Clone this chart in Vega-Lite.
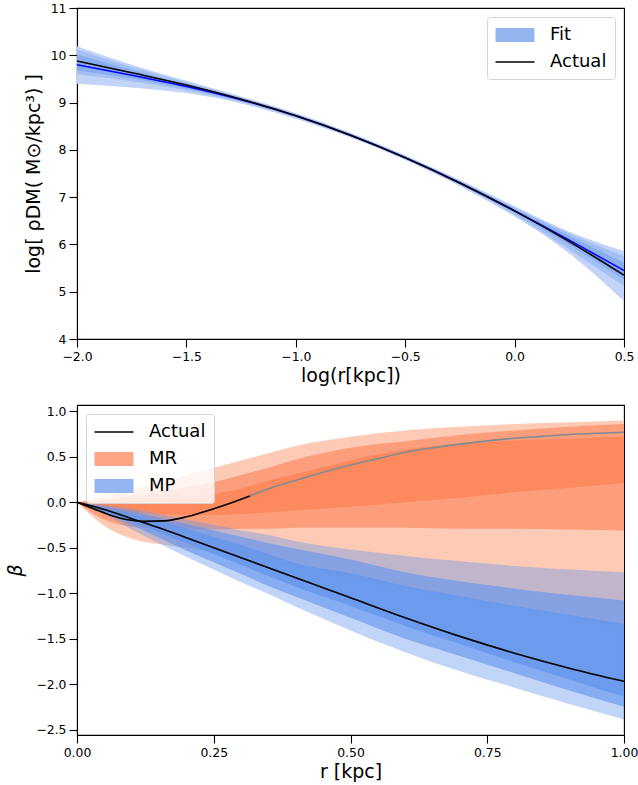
{
  "$schema": "https://vega.github.io/schema/vega-lite/v6.json",
  "padding": {"left": 6, "top": 1, "right": 6, "bottom": 2},
  "bounds": "flush",
  "spacing": 66,
  "config": {
    "font": "DejaVu Sans",
    "view": {"stroke": "black", "strokeWidth": 1.1},
    "axis": {"domainColor": "black", "domainWidth": 1.1, "tickColor": "black", "tickWidth": 1.1, "tickSize": 8, "labelColor": "black", "titleColor": "black", "labelFont": "DejaVu Sans", "titleFont": "DejaVu Sans", "labelFontSize": 12.4, "titleFontSize": 19, "titleFontWeight": "normal", "labelPadding": 3, "labelFlush": false, "grid": false},
    "legend": {"labelFont": "DejaVu Sans", "labelFontSize": 18, "labelColor": "black", "padding": 8, "rowPadding": 8, "labelOffset": 25, "symbolOffset": 10, "symbolSize": 380, "symbolStrokeWidth": 0, "symbolOpacity": 1, "cornerRadius": 3, "strokeColor": "#d4d4d4", "fillColor": "rgba(255,255,255,0.8)", "offset": 9}
  },
  "datasets": {
    "top": [
      {"x": -2, "fit": 9.80, "actual": 9.88, "o_lo": 9.40, "o_hi": 10.19, "m_lo": 9.60, "m_hi": 10.12, "i_lo": 9.68, "i_hi": 10.02},
      {"x": -1.75, "fit": 9.58, "actual": 9.63, "o_lo": 9.32, "o_hi": 9.80, "m_lo": 9.45, "m_hi": 9.75, "i_lo": 9.51, "i_hi": 9.69},
      {"x": -1.5, "fit": 9.34, "actual": 9.37, "o_lo": 9.20, "o_hi": 9.46, "m_lo": 9.26, "m_hi": 9.43, "i_lo": 9.30, "i_hi": 9.39},
      {"x": -1.25, "fit": 9.06, "actual": 9.07, "o_lo": 8.98, "o_hi": 9.13, "m_lo": 9.01, "m_hi": 9.11, "i_lo": 9.03, "i_hi": 9.09},
      {"x": -1, "fit": 8.72, "actual": 8.72, "o_lo": 8.66, "o_hi": 8.78, "m_lo": 8.68, "m_hi": 8.76, "i_lo": 8.70, "i_hi": 8.74},
      {"x": -0.75, "fit": 8.31, "actual": 8.31, "o_lo": 8.26, "o_hi": 8.36, "m_lo": 8.275, "m_hi": 8.345, "i_lo": 8.29, "i_hi": 8.33},
      {"x": -0.5, "fit": 7.835, "actual": 7.835, "o_lo": 7.785, "o_hi": 7.885, "m_lo": 7.80, "m_hi": 7.87, "i_lo": 7.815, "i_hi": 7.855},
      {"x": -0.25, "fit": 7.30, "actual": 7.30, "o_lo": 7.23, "o_hi": 7.36, "m_lo": 7.255, "m_hi": 7.345, "i_lo": 7.275, "i_hi": 7.325},
      {"x": 0, "fit": 6.71, "actual": 6.71, "o_lo": 6.59, "o_hi": 6.81, "m_lo": 6.63, "m_hi": 6.78, "i_lo": 6.67, "i_hi": 6.75},
      {"x": 0.25, "fit": 6.09, "actual": 6.06, "o_lo": 5.81, "o_hi": 6.27, "m_lo": 5.89, "m_hi": 6.23, "i_lo": 5.99, "i_hi": 6.18},
      {"x": 0.5, "fit": 5.45, "actual": 5.35, "o_lo": 4.80, "o_hi": 5.86, "m_lo": 5.12, "m_hi": 5.75, "i_lo": 5.26, "i_hi": 5.61}
    ],
    "topLegend": [
      {"s": "Fit", "x": -2, "y": 4},
      {"s": "Actual", "x": -2, "y": 4}
    ],
    "bands": [
      {"r": 0, "ro_lo": 0, "ro_hi": 0, "rm_lo": 0, "rm_hi": 0, "ri_lo": 0, "ri_hi": 0, "po_lo": 0, "po_hi": 0, "pm_lo": 0, "pm_hi": 0, "pi_lo": 0, "pi_hi": 0},
      {"r": 0.05, "ro_lo": -0.26, "ro_hi": 0.07, "rm_lo": -0.19, "rm_hi": 0.03, "ri_lo": -0.07, "ri_hi": 0.0, "po_lo": -0.13, "po_hi": -0.03, "pm_lo": -0.11, "pm_hi": -0.05, "pi_lo": -0.10, "pi_hi": -0.06},
      {"r": 0.1, "ro_lo": -0.40, "ro_hi": 0.14, "rm_lo": -0.27, "rm_hi": 0.07, "ri_lo": -0.11, "ri_hi": 0.01, "po_lo": -0.30, "po_hi": -0.07, "pm_lo": -0.25, "pm_hi": -0.10, "pi_lo": -0.21, "pi_hi": -0.13},
      {"r": 0.15, "ro_lo": -0.46, "ro_hi": 0.22, "rm_lo": -0.29, "rm_hi": 0.11, "ri_lo": -0.13, "ri_hi": 0.03, "po_lo": -0.45, "po_hi": -0.13, "pm_lo": -0.39, "pm_hi": -0.17, "pi_lo": -0.33, "pi_hi": -0.21},
      {"r": 0.2, "ro_lo": -0.50, "ro_hi": 0.30, "rm_lo": -0.30, "rm_hi": 0.16, "ri_lo": -0.14, "ri_hi": 0.05, "po_lo": -0.60, "po_hi": -0.19, "pm_lo": -0.53, "pm_hi": -0.24, "pi_lo": -0.45, "pi_hi": -0.29},
      {"r": 0.25, "ro_lo": -0.55, "ro_hi": 0.38, "rm_lo": -0.30, "rm_hi": 0.22, "ri_lo": -0.14, "ri_hi": 0.09, "po_lo": -0.74, "po_hi": -0.25, "pm_lo": -0.66, "pm_hi": -0.31, "pi_lo": -0.57, "pi_hi": -0.38},
      {"r": 0.3, "ro_lo": -0.60, "ro_hi": 0.46, "rm_lo": -0.29, "rm_hi": 0.30, "ri_lo": -0.13, "ri_hi": 0.15, "po_lo": -0.88, "po_hi": -0.31, "pm_lo": -0.79, "pm_hi": -0.38, "pi_lo": -0.69, "pi_hi": -0.47},
      {"r": 0.35, "ro_lo": -0.66, "ro_hi": 0.54, "rm_lo": -0.29, "rm_hi": 0.38, "ri_lo": -0.11, "ri_hi": 0.24, "po_lo": -1.01, "po_hi": -0.36, "pm_lo": -0.92, "pm_hi": -0.45, "pi_lo": -0.81, "pi_hi": -0.57},
      {"r": 0.4, "ro_lo": -0.72, "ro_hi": 0.62, "rm_lo": -0.28, "rm_hi": 0.47, "ri_lo": -0.09, "ri_hi": 0.31, "po_lo": -1.15, "po_hi": -0.43, "pm_lo": -1.04, "pm_hi": -0.51, "pi_lo": -0.93, "pi_hi": -0.67},
      {"r": 0.5, "ro_lo": -0.85, "ro_hi": 0.72, "rm_lo": -0.28, "rm_hi": 0.60, "ri_lo": -0.05, "ri_hi": 0.46, "po_lo": -1.41, "po_hi": -0.52, "pm_lo": -1.27, "pm_hi": -0.63, "pi_lo": -1.14, "pi_hi": -0.78},
      {"r": 0.6, "ro_lo": -0.95, "ro_hi": 0.79, "rm_lo": -0.28, "rm_hi": 0.67, "ri_lo": 0.0, "ri_hi": 0.58, "po_lo": -1.65, "po_hi": -0.59, "pm_lo": -1.50, "pm_hi": -0.77, "pi_lo": -1.36, "pi_hi": -0.92},
      {"r": 0.7, "ro_lo": -1.05, "ro_hi": 0.83, "rm_lo": -0.29, "rm_hi": 0.74, "ri_lo": 0.05, "ri_hi": 0.64, "po_lo": -1.86, "po_hi": -0.65, "pm_lo": -1.69, "pm_hi": -0.87, "pi_lo": -1.56, "pi_hi": -1.03},
      {"r": 0.8, "ro_lo": -1.15, "ro_hi": 0.86, "rm_lo": -0.29, "rm_hi": 0.79, "ri_lo": 0.11, "ri_hi": 0.68, "po_lo": -2.04, "po_hi": -0.70, "pm_lo": -1.88, "pm_hi": -0.95, "pi_lo": -1.76, "pi_hi": -1.14},
      {"r": 0.9, "ro_lo": -1.25, "ro_hi": 0.88, "rm_lo": -0.30, "rm_hi": 0.83, "ri_lo": 0.16, "ri_hi": 0.70, "po_lo": -2.22, "po_hi": -0.74, "pm_lo": -2.07, "pm_hi": -1.02, "pi_lo": -1.95, "pi_hi": -1.24},
      {"r": 1.0, "ro_lo": -1.40, "ro_hi": 0.90, "rm_lo": -0.31, "rm_hi": 0.86, "ri_lo": 0.21, "ri_hi": 0.72, "po_lo": -2.39, "po_hi": -0.77, "pm_lo": -2.25, "pm_hi": -1.08, "pi_lo": -2.14, "pi_hi": -1.34}
    ],
    "mpActual": [
      {"r": 0, "beta": 0}, {"r": 0.05, "beta": -0.08}, {"r": 0.1, "beta": -0.18}, {"r": 0.15, "beta": -0.28}, {"r": 0.2, "beta": -0.39}, {"r": 0.25, "beta": -0.50}, {"r": 0.3, "beta": -0.61}, {"r": 0.35, "beta": -0.72}, {"r": 0.4, "beta": -0.83}, {"r": 0.45, "beta": -0.94}, {"r": 0.5, "beta": -1.05}, {"r": 0.6, "beta": -1.27}, {"r": 0.7, "beta": -1.475}, {"r": 0.8, "beta": -1.66}, {"r": 0.9, "beta": -1.825}, {"r": 1.0, "beta": -1.97}
    ],
    "mrInner": [
      {"r": 0, "beta": 0}, {"r": 0.03, "beta": -0.07}, {"r": 0.06, "beta": -0.14}, {"r": 0.09, "beta": -0.19}, {"r": 0.12, "beta": -0.21}, {"r": 0.16, "beta": -0.205}, {"r": 0.2, "beta": -0.16}, {"r": 0.24, "beta": -0.09}, {"r": 0.28, "beta": -0.01}, {"r": 0.316, "beta": 0.07}
    ],
    "mrOuter": [
      {"r": 0.316, "beta": 0.07}, {"r": 0.35, "beta": 0.15}, {"r": 0.4, "beta": 0.24}, {"r": 0.45, "beta": 0.33}, {"r": 0.5, "beta": 0.41}, {"r": 0.55, "beta": 0.48}, {"r": 0.6, "beta": 0.55}, {"r": 0.65, "beta": 0.60}, {"r": 0.7, "beta": 0.64}, {"r": 0.75, "beta": 0.675}, {"r": 0.8, "beta": 0.705}, {"r": 0.85, "beta": 0.725}, {"r": 0.9, "beta": 0.745}, {"r": 0.95, "beta": 0.76}, {"r": 1.0, "beta": 0.77}
    ],
    "bottomLegend": [
      {"s": "Actual", "r": 0, "beta": 0},
      {"s": "MR", "r": 0, "beta": 0},
      {"s": "MP", "r": 0, "beta": 0}
    ]
  },
  "vconcat": [
    {
      "width": 547,
      "height": 331,
      "resolve": {"scale": {"color": "independent", "shape": "independent"}},
      "layer": [
        {
          "data": {"name": "top"},
          "mark": {"type": "area", "color": "#c1d4f7", "interpolate": "monotone"},
          "encoding": {
            "x": {"field": "x", "type": "quantitative", "scale": {"domain": [-2, 0.5], "nice": false, "zero": false}, "axis": {"values": [-2, -1.5, -1, -0.5, 0, 0.5], "format": ".1f", "title": "log(r[kpc])"}},
            "y": {"field": "o_lo", "type": "quantitative", "scale": {"domain": [4, 11], "nice": false, "zero": false}, "axis": {"values": [4, 5, 6, 7, 8, 9, 10, 11], "format": "d", "title": "log[ ρDM( M⊙/kpc³) ]", "titlePadding": 7}},
            "y2": {"field": "o_hi"}
          }
        },
        {
          "data": {"name": "top"},
          "mark": {"type": "area", "color": "#a3bff3", "interpolate": "monotone"},
          "encoding": {"x": {"field": "x", "type": "quantitative"}, "y": {"field": "m_lo", "type": "quantitative"}, "y2": {"field": "m_hi"}}
        },
        {
          "data": {"name": "top"},
          "mark": {"type": "area", "color": "#88adf0", "interpolate": "monotone"},
          "encoding": {"x": {"field": "x", "type": "quantitative"}, "y": {"field": "i_lo", "type": "quantitative"}, "y2": {"field": "i_hi"}}
        },
        {
          "data": {"name": "top"},
          "mark": {"type": "line", "color": "#0000ff", "strokeWidth": 1.5, "interpolate": "monotone"},
          "encoding": {"x": {"field": "x", "type": "quantitative"}, "y": {"field": "fit", "type": "quantitative"}}
        },
        {
          "data": {"name": "top"},
          "mark": {"type": "line", "color": "black", "strokeWidth": 1.6, "interpolate": "monotone"},
          "encoding": {"x": {"field": "x", "type": "quantitative"}, "y": {"field": "actual", "type": "quantitative"}}
        },
        {
          "data": {"name": "topLegend"},
          "mark": {"type": "point", "filled": true, "opacity": 0},
          "encoding": {
            "x": {"field": "x", "type": "quantitative"},
            "y": {"field": "y", "type": "quantitative"},
            "color": {"field": "s", "type": "nominal", "scale": {"domain": ["Fit", "Actual"], "range": ["#94b4f0", "black"]}, "legend": {"title": null, "orient": "top-right"}},
            "shape": {"field": "s", "type": "nominal", "scale": {"domain": ["Fit", "Actual"], "range": ["M-2,-0.72L2,-0.72L2,0.72L-2,0.72Z", "M-2,-0.08L2,-0.08L2,0.08L-2,0.08Z"]}, "legend": {"title": null, "orient": "top-right"}}
          }
        }
      ]
    },
    {
      "width": 547,
      "height": 330,
      "resolve": {"scale": {"color": "independent", "shape": "independent"}},
      "layer": [
        {
          "data": {"name": "bands"},
          "mark": {"type": "area", "color": "#fdcab5", "interpolate": "monotone"},
          "encoding": {
            "x": {"field": "r", "type": "quantitative", "scale": {"domain": [0, 1], "nice": false, "zero": false}, "axis": {"values": [0, 0.25, 0.5, 0.75, 1], "format": ".2f", "title": "r [kpc]"}},
            "y": {"field": "ro_lo", "type": "quantitative", "scale": {"domain": [-2.56, 1.07], "nice": false, "zero": false}, "axis": {"values": [-2.5, -2, -1.5, -1, -0.5, 0, 0.5, 1], "format": ".1f", "title": "β", "titleFontStyle": "italic", "titlePadding": 10}},
            "y2": {"field": "ro_hi"}
          }
        },
        {
          "data": {"name": "bands"},
          "mark": {"type": "area", "color": "#fc9d7c", "interpolate": "monotone"},
          "encoding": {"x": {"field": "r", "type": "quantitative"}, "y": {"field": "rm_lo", "type": "quantitative"}, "y2": {"field": "rm_hi"}}
        },
        {
          "data": {"name": "bands"},
          "mark": {"type": "area", "color": "#fd8a5e", "interpolate": "monotone"},
          "encoding": {"x": {"field": "r", "type": "quantitative"}, "y": {"field": "ri_lo", "type": "quantitative"}, "y2": {"field": "ri_hi"}}
        },
        {
          "data": {"name": "bands"},
          "mark": {"type": "area", "color": "#6495ED", "opacity": 0.4, "interpolate": "monotone"},
          "encoding": {"x": {"field": "r", "type": "quantitative"}, "y": {"field": "po_lo", "type": "quantitative"}, "y2": {"field": "po_hi"}}
        },
        {
          "data": {"name": "bands"},
          "mark": {"type": "area", "color": "#6495ED", "opacity": 0.63, "interpolate": "monotone"},
          "encoding": {"x": {"field": "r", "type": "quantitative"}, "y": {"field": "pm_lo", "type": "quantitative"}, "y2": {"field": "pm_hi"}}
        },
        {
          "data": {"name": "bands"},
          "mark": {"type": "area", "color": "#6495ED", "opacity": 0.77, "interpolate": "monotone"},
          "encoding": {"x": {"field": "r", "type": "quantitative"}, "y": {"field": "pi_lo", "type": "quantitative"}, "y2": {"field": "pi_hi"}}
        },
        {
          "data": {"name": "mpActual"},
          "mark": {"type": "line", "color": "black", "strokeWidth": 1.6, "interpolate": "monotone"},
          "encoding": {"x": {"field": "r", "type": "quantitative"}, "y": {"field": "beta", "type": "quantitative"}}
        },
        {
          "data": {"name": "mrOuter"},
          "mark": {"type": "line", "color": "#7f8b92", "strokeWidth": 1.6, "interpolate": "monotone"},
          "encoding": {"x": {"field": "r", "type": "quantitative"}, "y": {"field": "beta", "type": "quantitative"}}
        },
        {
          "data": {"name": "mrInner"},
          "mark": {"type": "line", "color": "black", "strokeWidth": 1.6, "interpolate": "monotone"},
          "encoding": {"x": {"field": "r", "type": "quantitative"}, "y": {"field": "beta", "type": "quantitative"}}
        },
        {
          "data": {"name": "bottomLegend"},
          "mark": {"type": "point", "filled": true, "opacity": 0},
          "encoding": {
            "x": {"field": "r", "type": "quantitative"},
            "y": {"field": "beta", "type": "quantitative"},
            "color": {"field": "s", "type": "nominal", "scale": {"domain": ["Actual", "MR", "MP"], "range": ["black", "#fea586", "#93b5f2"]}, "legend": {"title": null, "orient": "top-left"}},
            "shape": {"field": "s", "type": "nominal", "scale": {"domain": ["Actual", "MR", "MP"], "range": ["M-2,-0.08L2,-0.08L2,0.08L-2,0.08Z", "M-2,-0.72L2,-0.72L2,0.72L-2,0.72Z", "M-2,-0.72L2,-0.72L2,0.72L-2,0.72Z"]}, "legend": {"title": null, "orient": "top-left"}}
          }
        }
      ]
    }
  ]
}
